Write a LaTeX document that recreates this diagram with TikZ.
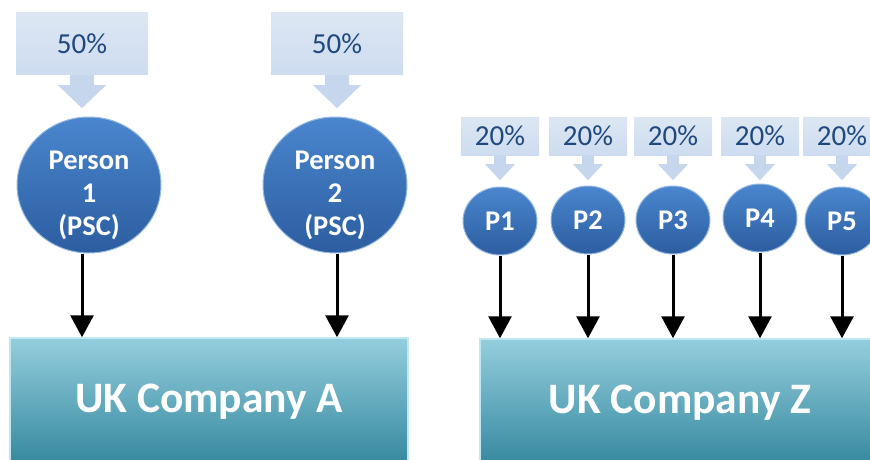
\documentclass[tikz,border=0pt]{standalone}
\usepackage{fontspec}
\setmainfont{Carlito}
\usetikzlibrary{shapes.geometric,arrows.meta,calc}

\definecolor{sharetop}{RGB}{221,231,243}
\definecolor{sharebot}{RGB}{205,220,240}
\definecolor{sharearr}{RGB}{197,214,237}
\definecolor{sharetxt}{RGB}{31,73,125}
\definecolor{ptop}{RGB}{74,134,206}
\definecolor{pbot}{RGB}{44,93,160}
\definecolor{prim}{RGB}{150,185,225}
\definecolor{ctop}{RGB}{148,206,221}
\definecolor{cbot}{RGB}{52,135,158}
\definecolor{crim}{RGB}{190,232,242}

\begin{document}
\begin{tikzpicture}[x=1pt,y=-1pt,
    share/.style={top color=sharetop,bottom color=sharebot,text=sharetxt,inner sep=0pt,
      font=\fontsize{29}{32}\selectfont},
    person/.style={ellipse,top color=ptop,bottom color=pbot,draw=prim,line width=1pt,
      text=white,inner sep=0pt,font=\bfseries\fontsize{28.5}{33}\selectfont},
    ptext/.style={text=white,align=center,font=\bfseries\fontsize{28.5}{33}\selectfont},
    company/.style={top color=ctop,bottom color=cbot,draw=crim,line width=1.5pt,
      text=white,font=\bfseries\fontsize{43.5}{50}\selectfont},
    owns/.style={line width=3pt,-{Triangle[length=22pt,width=23pt]}}]
  \useasboundingbox (0,0) rectangle (870,460);
  \clip (0,0) rectangle (870,460);

  \node[company,minimum width=398pt,minimum height=128pt] (ca) at (209,402) {UK Company A};
  \node[company,minimum width=400pt,minimum height=128pt] (cz) at (680,403) {UK Company Z};

  % two persons with 50% each
  \foreach \i/\x/\c/\d in {1/82/89/-7,2/337/335/2} {
    \node[share,minimum width=132pt,minimum height=62pt] (s\i) at (\x,44) {50\%};
    \fill[sharearr] ($(s\i.south)+(-12,0)$) -- ++(0,10) -- ++(-12,0) -- ($(s\i.south)+(0,33)$)
      -- ($(s\i.south)+(24,10)$) -- ++(-12,0) -- ++(0,-10) -- cycle;
    \node[person,minimum width=144pt,minimum height=136pt,
      label={[ptext,yshift=-10pt]center:Person\\\i\\(PSC)}] (pa\i) at (\c,185) {};
    \draw[owns] ([xshift=\d pt]pa\i.south) -- ([xshift=\d pt]pa\i.south |- ca.north);
  }

  % five persons with 20% each
  \foreach \i/\x/\y in {1/500/221,2/588/220,3/673/220,4/760/218,5/842/221} {
    \node[share,minimum width=78pt,minimum height=38pt] (q\i) at (\x,136) {20\%};
    \fill[sharearr] ($(q\i.south)+(-6,0)$) -- ++(0,9) -- ++(-9,0) -- ($(q\i.south)+(0,25)$)
      -- ($(q\i.south)+(15,9)$) -- ++(-9,0) -- ++(0,-9) -- cycle;
    \node[person,minimum width=74pt,minimum height=68pt] (p\i) at (\x,\y) {P\i};
    \draw[owns] (p\i.south) -- (p\i.south |- cz.north);
  }
\end{tikzpicture}
\end{document}
